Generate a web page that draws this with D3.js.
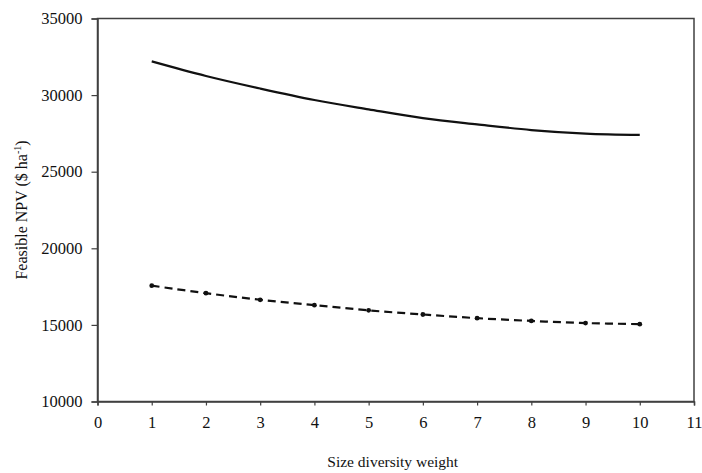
<!DOCTYPE html>
<html>
<head>
<meta charset="utf-8">
<script src="https://cdn.jsdelivr.net/npm/d3@7"></script>
<style>
  html, body { margin: 0; padding: 0; background: #fff; }
  svg { display: block; }
  text { font-family: "Liberation Serif", "Times New Roman", serif; fill: #111; }
</style>
</head>
<body>
<svg id="chart" width="702" height="473"></svg>
<script>
// Size diversity weight (x) and feasible NPV for the two scenarios
const weights = [1, 2, 3, 4, 5, 6, 7, 8, 9, 10];
const npvUpper = [32200, 31250, 30430, 29680, 29070, 28500, 28090, 27720, 27490, 27400];
const npvLower = [17560, 17070, 16640, 16290, 15950, 15680, 15440, 15260, 15120, 15050];
const xTicks = [0, 1, 2, 3, 4, 5, 6, 7, 8, 9, 10, 11];
const yTicks = [10000, 15000, 20000, 25000, 30000, 35000];

const svg = d3.select("#chart");
const plotLeft = 97.5, plotRight = 694, plotTop = 18.5, plotBottom = 401.5;

const x = d3.scaleLinear().domain([0, 11]).range([plotLeft, plotRight]);
const y = d3.scaleLinear().domain([10000, 35000]).range([plotBottom, plotTop]);

const axisColor = "#404040";
const serif = '"Liberation Serif", "Times New Roman", serif';

// plot frame
svg.append("rect")
  .attr("x", plotLeft).attr("y", plotTop)
  .attr("width", plotRight - plotLeft).attr("height", plotBottom - plotTop)
  .attr("fill", "none").attr("stroke", axisColor).attr("stroke-width", 1.5);

// y axis
const yAxis = svg.append("g")
  .attr("transform", `translate(${plotLeft},0)`)
  .call(d3.axisLeft(y).tickValues(yTicks).tickFormat(d3.format("d")).tickSize(6).tickPadding(9))
  .attr("font-family", serif).attr("font-size", 16.5);
yAxis.select(".domain").attr("stroke", axisColor).attr("stroke-width", 1.5);
yAxis.selectAll(".tick line").attr("stroke", axisColor).attr("stroke-width", 1.2);
yAxis.selectAll(".tick text").attr("fill", "#111");

// x axis
const xAxis = svg.append("g")
  .attr("transform", `translate(0,${plotBottom})`)
  .call(d3.axisBottom(x).tickValues(xTicks).tickFormat(d3.format("d")).tickSize(4).tickPadding(11))
  .attr("font-family", serif).attr("font-size", 16.5);
xAxis.select(".domain").attr("stroke", axisColor).attr("stroke-width", 1.5);
xAxis.selectAll(".tick line").attr("stroke", axisColor).attr("stroke-width", 1.2);
xAxis.selectAll(".tick text").attr("fill", "#111");

// axis titles
svg.append("text")
  .attr("x", (plotLeft + plotRight) / 2 - 3).attr("y", 467)
  .attr("text-anchor", "middle")
  .style("font-size", "15.5px")
  .text("Size diversity weight");

const yTitle = svg.append("text")
  .attr("transform", `translate(27,${(plotTop + plotBottom) / 2}) rotate(-90)`)
  .attr("text-anchor", "middle")
  .style("font-size", "16px");
yTitle.append("tspan").text("Feasible NPV ($ ha");
yTitle.append("tspan").attr("dy", -6).style("font-size", "10px").text("-1");
yTitle.append("tspan").attr("dy", 6).text(")");

// series
const line = d3.line()
  .x((d, i) => x(weights[i]))
  .y(d => y(d))
  .curve(d3.curveCatmullRom);

svg.append("path")
  .datum(npvUpper)
  .attr("d", line)
  .attr("fill", "none")
  .attr("stroke", "#111")
  .attr("stroke-width", 2.2);

svg.append("path")
  .datum(npvLower)
  .attr("d", line)
  .attr("fill", "none")
  .attr("stroke", "#111")
  .attr("stroke-width", 2.2)
  .attr("stroke-dasharray", "8,5");

svg.selectAll("circle.pt")
  .data(npvLower)
  .join("circle")
  .attr("class", "pt")
  .attr("cx", (d, i) => x(weights[i]))
  .attr("cy", d => y(d))
  .attr("r", 2.4)
  .attr("fill", "#111");
</script>
</body>
</html>
